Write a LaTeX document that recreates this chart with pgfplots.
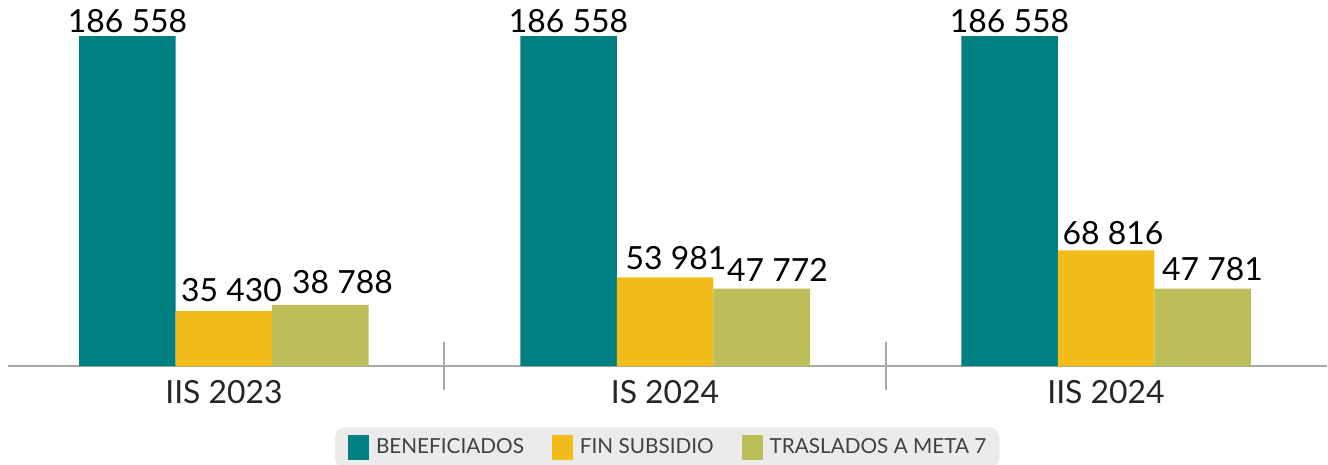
\documentclass[border=0pt]{standalone}
\usepackage{pgfplots}
\usepackage{pgfplotstable}
\pgfplotsset{compat=1.18}
\usepackage{fontspec}
\setmainfont{Lato}
\definecolor{cteal}{HTML}{008080}
\definecolor{cyel}{HTML}{F2BD1B}
\definecolor{colive}{HTML}{BBBE59}
\definecolor{lgray}{HTML}{EBEBEB}
\definecolor{axgray}{HTML}{A8A8A8}
% x  value  label-offsets (bp)
\pgfplotstableread{
x y dx dy
0 186558 0 1.5
1 186558 0 1.5
2 186558 0 1.5
}\tBen
\pgfplotstableread{
x y dx dy
0 35430 3.75 4.5
1 53981 5.5 3.5
2 68816 3.5 2.5
}\tFin
\pgfplotstableread{
x y dx dy
0 38788 11 5.5
1 47772 8 3.5
2 47781 5 3.5
}\tTra
\begin{document}
\begin{tikzpicture}
\begin{axis}[
  scale only axis, width=659.3bp, height=190.85bp,
  xmin=-0.49, xmax=2.5, ymin=5200, ymax=215000,
  ybar=0pt, bar width=48.25bp,
  axis x line*=bottom, axis y line=none,
  ytick=\empty, scaled y ticks=false,
  x axis line style={axgray, line width=1bp},
  xtick={0,1,2}, xticklabels={IIS 2023, IS 2024, IIS 2024},
  major tick length=0pt,
  extra x ticks={0.5,1.5}, extra x tick labels={},
  extra x tick style={xtick align=center, major tick length=24bp, tick style={axgray, line width=1bp}},
  xticklabel style={font=\fontsize{16}{18}\selectfont, color=black!85, inner sep=0pt, yshift=-7bp, anchor=north},
  visualization depends on={\thisrow{dx} \as \dx},
  visualization depends on={\thisrow{dy} \as \dy},
  nodes near coords={\pgfmathprintnumber[fixed, precision=0, assume math mode=true, 1000 sep={\ }]{\pgfplotspointmeta}},
  every node near coord/.append style={font=\fontsize{16}{18}\selectfont, inner sep=0pt, xshift=\dx bp, yshift=\dy bp, color=black},
  legend columns=3,
  legend cell align=left,
  legend style={at={(0.5,0)}, anchor=north, yshift=-30.5bp, fill=lgray, draw=none,
    rounded corners=5bp, inner xsep=6.5bp, inner ysep=4bp,
    font=\fontsize{10.4}{12}\selectfont, text=black!75,
    nodes={inner sep=0pt},
    /tikz/every odd column/.append style={column sep=3.5bp},
    /tikz/every even column/.append style={column sep=14bp}},
  legend image code/.code={\fill[#1, sharp corners] (0bp,-6.25bp) rectangle (10.5bp,6.25bp);},
]
\addplot[fill=cteal, draw=none] table[x=x, y=y] {\tBen};
\addplot[fill=cyel, draw=none] table[x=x, y=y] {\tFin};
\addplot[fill=colive, draw=none] table[x=x, y=y] {\tTra};
\legend{BENEFICIADOS, FIN SUBSIDIO, TRASLADOS A META 7}
\end{axis}
\pgfresetboundingbox
\useasboundingbox (-3.95bp,-49.5bp) rectangle (660.05bp,183bp);
\end{tikzpicture}
\end{document}
